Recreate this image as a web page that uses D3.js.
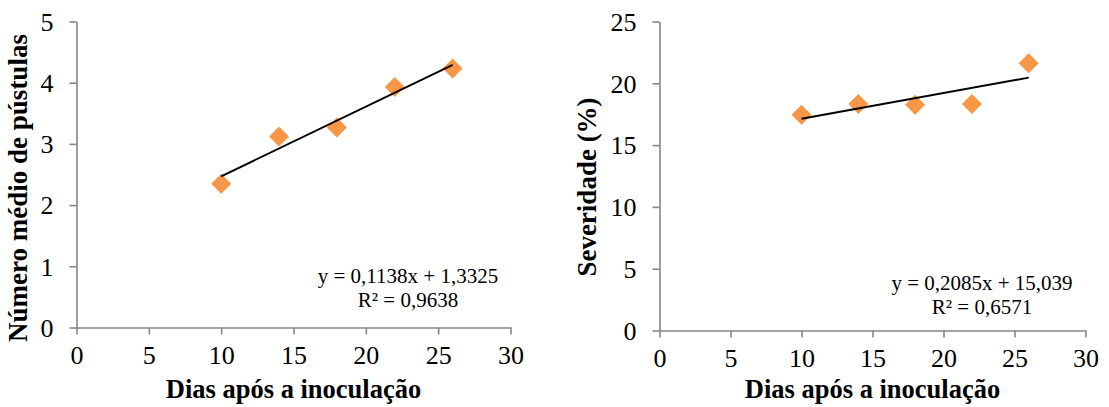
<!DOCTYPE html>
<html>
<head>
<meta charset="utf-8">
<script src="https://cdn.jsdelivr.net/npm/d3@7"></script>
<style>
  body { margin: 0; background: #fff; }
  svg { display: block; }
  text { font-family: "Liberation Serif", "Times New Roman", serif; fill: #000; }
</style>
</head>
<body>
<svg id="chart" width="1109" height="407"></svg>
<script>
// data
var days = [10, 14, 18, 22, 26];
var pustulas = [2.35, 3.12, 3.27, 3.93, 4.23];
var severidade = [17.45, 18.32, 18.26, 18.32, 21.63];

var xTicks = [0, 5, 10, 15, 20, 25, 30];
var pustTicks = [0, 1, 2, 3, 4, 5];
var sevTicks = [0, 5, 10, 15, 20, 25];

// linear trend (Excel)
var pustFit = [0.1138, 1.3325];
var sevFit = [0.2085, 15.039];
var pustEq = ["y = 0,1138x + 1,3325", "R² = 0,9638"];
var sevEq = ["y = 0,2085x + 15,039", "R² = 0,6571"];

var xTitle = "Dias após a inoculação";

var svg = d3.select("#chart");
var axisColor = "#868686";
var markColor = "#f79646";
var serif = "Liberation Serif, Times New Roman, serif";

function panel(opt) {
    var x = d3.scaleLinear().domain([0, 30]).range([opt.left, opt.right]);
    var y = d3.scaleLinear().domain([0, opt.yMax]).range([opt.bottom, opt.top]);

    var g = svg.append("g");

    // axes
    var ax = g.append("g")
        .attr("transform", "translate(0," + opt.bottom + ")")
        .call(d3.axisBottom(x).tickValues(xTicks).tickFormat(d3.format("d"))
            .tickSize(7).tickSizeOuter(0).tickPadding(9));
    var ay = g.append("g")
        .attr("transform", "translate(" + opt.left + ",0)")
        .call(d3.axisLeft(y).tickValues(opt.ticks).tickFormat(d3.format("d"))
            .tickSize(7).tickSizeOuter(0).tickPadding(16));

    [ax, ay].forEach(function (a) {
        a.attr("font-family", serif).attr("font-size", 26);
        a.selectAll("path, line").attr("stroke", axisColor).attr("stroke-width", 1.6);
        a.selectAll("text").attr("fill", "#000");
    });
    ax.selectAll("text").attr("dy", "0.78em");
    ay.selectAll("text").attr("dy", "0.34em");

    // markers
    var diamond = d3.symbol().type(d3.symbolSquare).size(200);
    g.selectAll(".pt")
        .data(days.map(function (d, i) { return [d, opt.values[i]]; }))
        .enter().append("path")
        .attr("d", diamond)
        .attr("transform", function (d) {
            return "translate(" + x(d[0]) + "," + y(d[1]) + ") rotate(45)";
        })
        .attr("fill", markColor);

    // trend line
    var ends = [d3.min(days), d3.max(days)];
    g.append("path")
        .datum(ends)
        .attr("fill", "none")
        .attr("stroke", "#000")
        .attr("stroke-width", 2)
        .attr("d", d3.line()
            .x(function (d) { return x(d); })
            .y(function (d) { return y(opt.fit[0] * d + opt.fit[1]); }));

    // equation
    opt.eq.forEach(function (s, i) {
        g.append("text")
            .attr("x", opt.eqX)
            .attr("y", opt.eqY + i * 23.5)
            .attr("text-anchor", "middle")
            .attr("font-family", serif)
            .attr("font-size", 21)
            .text(s);
    });

    // axis titles
    g.append("text")
        .attr("x", (opt.left + opt.right) / 2)
        .attr("y", 398)
        .attr("text-anchor", "middle")
        .attr("font-family", serif)
        .attr("font-size", 26.5)
        .attr("font-weight", "bold")
        .text(xTitle);

    g.append("text")
        .attr("transform", "translate(" + opt.yTitleX + "," + opt.yTitleY + ") rotate(-90)")
        .attr("text-anchor", "middle")
        .attr("font-family", serif)
        .attr("font-size", 27)
        .attr("font-weight", "bold")
        .text(opt.yTitle);
}

panel({
    left: 76.5, right: 510.5, top: 21.5, bottom: 327.5,
    yMax: 5, ticks: pustTicks, values: pustulas, fit: pustFit, eq: pustEq,
    eqX: 408, eqY: 283,
    yTitle: "Número médio de pústulas", yTitleX: 27, yTitleY: 188
});

panel({
    left: 659.5, right: 1085.5, top: 21.5, bottom: 330.5,
    yMax: 25, ticks: sevTicks, values: severidade, fit: sevFit, eq: sevEq,
    eqX: 982, eqY: 290,
    yTitle: "Severidade (%)", yTitleX: 596, yTitleY: 187
});
</script>
</body>
</html>
